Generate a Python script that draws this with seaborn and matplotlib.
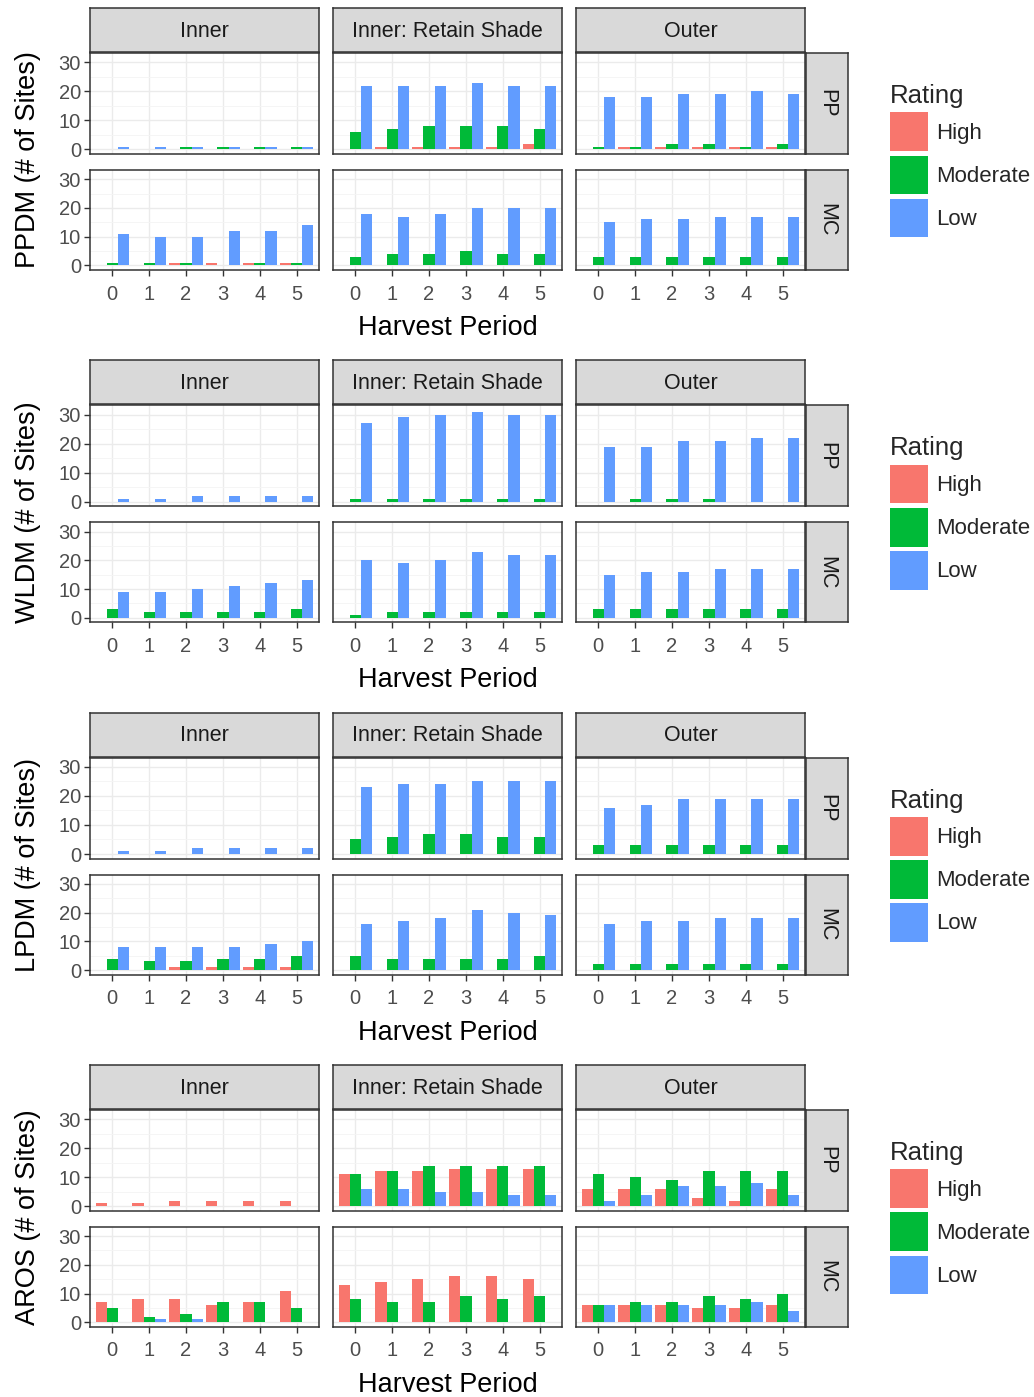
import matplotlib
matplotlib.use("Agg")
import matplotlib.pyplot as plt
from matplotlib.patches import Patch
from matplotlib.ticker import FixedLocator
import seaborn as sns
import pandas as pd

# ---------------- data ----------------
periods = ["0", "1", "2", "3", "4", "5"]
ratings = ["High", "Moderate", "Low"]
locations = ["Inner", "Inner: Retain Shade", "Outer"]
forests = ["PP", "MC"]
metrics = ["PPDM", "WLDM", "LPDM", "AROS"]
# panel order inside each list: PP-Inner, PP-RetainShade, PP-Outer, MC-Inner, MC-RetainShade, MC-Outer

PPDM_HIGH = [[0, 0, 0, 0, 0, 0], [0, 1, 1, 1, 1, 2], [0, 1, 1, 1, 1, 1],
             [0, 0, 1, 1, 1, 1], [0, 0, 0, 0, 0, 0], [0, 0, 0, 0, 0, 0]]
PPDM_MOD = [[0, 0, 1, 1, 1, 1], [6, 7, 8, 8, 8, 7], [1, 1, 2, 2, 1, 2],
            [1, 1, 1, 0, 1, 1], [3, 4, 4, 5, 4, 4], [3, 3, 3, 3, 3, 3]]
PPDM_LOW = [[1, 1, 1, 1, 1, 1], [22, 22, 22, 23, 22, 22], [18, 18, 19, 19, 20, 19],
            [11, 10, 10, 12, 12, 14], [18, 17, 18, 20, 20, 20], [15, 16, 16, 17, 17, 17]]

WLDM_HIGH = [[0, 0, 0, 0, 0, 0], [0, 0, 0, 0, 0, 0], [0, 0, 0, 0, 0, 0],
             [0, 0, 0, 0, 0, 0], [0, 0, 0, 0, 0, 0], [0, 0, 0, 0, 0, 0]]
WLDM_MOD = [[0, 0, 0, 0, 0, 0], [1, 1, 1, 1, 1, 1], [0, 1, 1, 1, 0, 0],
            [3, 2, 2, 2, 2, 3], [1, 2, 2, 2, 2, 2], [3, 3, 3, 3, 3, 3]]
WLDM_LOW = [[1, 1, 2, 2, 2, 2], [27, 29, 30, 31, 30, 30], [19, 19, 21, 21, 22, 22],
            [9, 9, 10, 11, 12, 13], [20, 19, 20, 23, 22, 22], [15, 16, 16, 17, 17, 17]]

LPDM_HIGH = [[0, 0, 0, 0, 0, 0], [0, 0, 0, 0, 0, 0], [0, 0, 0, 0, 0, 0],
             [0, 0, 1, 1, 1, 1], [0, 0, 0, 0, 0, 0], [0, 0, 0, 0, 0, 0]]
LPDM_MOD = [[0, 0, 0, 0, 0, 0], [5, 6, 7, 7, 6, 6], [3, 3, 3, 3, 3, 3],
            [4, 3, 3, 4, 4, 5], [5, 4, 4, 4, 4, 5], [2, 2, 2, 2, 2, 2]]
LPDM_LOW = [[1, 1, 2, 2, 2, 2], [23, 24, 24, 25, 25, 25], [16, 17, 19, 19, 19, 19],
            [8, 8, 8, 8, 9, 10], [16, 17, 18, 21, 20, 19], [16, 17, 17, 18, 18, 18]]

AROS_HIGH = [[1, 1, 2, 2, 2, 2], [11, 12, 12, 13, 13, 13], [6, 6, 6, 3, 2, 6],
             [7, 8, 8, 6, 7, 11], [13, 14, 15, 16, 16, 15], [6, 6, 6, 5, 5, 6]]
AROS_MOD = [[0, 0, 0, 0, 0, 0], [11, 12, 14, 14, 14, 14], [11, 10, 9, 12, 12, 12],
            [5, 2, 3, 7, 7, 5], [8, 7, 7, 9, 8, 9], [6, 7, 7, 9, 8, 10]]
AROS_LOW = [[0, 0, 0, 0, 0, 0], [6, 6, 5, 5, 4, 4], [2, 4, 7, 7, 8, 4],
            [0, 1, 1, 0, 0, 0], [0, 0, 0, 0, 0, 0], [6, 6, 6, 6, 7, 4]]

y_ticks = [0, 10, 20, 30]
colors = ["#F8766D", "#00BA38", "#619CFF"]

# ---------------- build long table ----------------
series = {
    "PPDM": (PPDM_HIGH, PPDM_MOD, PPDM_LOW),
    "WLDM": (WLDM_HIGH, WLDM_MOD, WLDM_LOW),
    "LPDM": (LPDM_HIGH, LPDM_MOD, LPDM_LOW),
    "AROS": (AROS_HIGH, AROS_MOD, AROS_LOW),
}
rows = []
for m in metrics:
    for r_i, rating in enumerate(ratings):
        panels = series[m][r_i]
        for p_i, vals in enumerate(panels):
            forest = forests[p_i // 3]
            loc = locations[p_i % 3]
            for per, v in zip(periods, vals):
                rows.append(dict(Metric=m, Forest=forest, Location=loc,
                                 Rating=rating, Period=per, Count=v))
df = pd.DataFrame(rows)

# ---------------- figure ----------------
sns.set_style("white")
plt.rcParams["font.family"] = ["Liberation Sans", "DejaVu Sans"]

W, H = 1034, 1397
fig = plt.figure(figsize=(W / 100, H / 100), dpi=100)


def rect(x0, y0, x1, y1):
    return [x0 / W, 1 - y1 / H, (x1 - x0) / W, (y1 - y0) / H]


BORDER = "#333333"
col_x = [(90, 319), (333, 562), (576, 805)]
ylim = (-1.58, 33.2)

for b, m in enumerate(metrics):
    T = 8 + 352.3 * b
    row_y = [(T + 45, T + 146), (T + 162, T + 262)]

    # column strips
    for c, loc in enumerate(locations):
        x0, x1 = col_x[c]
        sax = fig.add_axes(rect(x0, T, x1, T + 44))
        sax.set_facecolor("#D9D9D9")
        sax.set_xticks([]); sax.set_yticks([])
        for s in sax.spines.values():
            s.set_color(BORDER); s.set_linewidth(1.1)
        sax.text(0.5, 0.47, loc, ha="center", va="center", fontsize=15.5,
                 color="#1A1A1A", transform=sax.transAxes)

    for r, forest in enumerate(forests):
        y0, y1 = row_y[r]
        # row strip
        sax = fig.add_axes(rect(806, y0, 848, y1))
        sax.set_facecolor("#D9D9D9")
        sax.set_xticks([]); sax.set_yticks([])
        for s in sax.spines.values():
            s.set_color(BORDER); s.set_linewidth(1.1)
        sax.text(0.5, 0.5, forest, ha="center", va="center", fontsize=15.5,
                 color="#1A1A1A", rotation=270, transform=sax.transAxes)

        for c, loc in enumerate(locations):
            x0, x1 = col_x[c]
            ax = fig.add_axes(rect(x0, y0, x1, y1))
            sub = df[(df.Metric == m) & (df.Forest == forest) & (df.Location == loc)]
            sns.barplot(data=sub, x="Period", y="Count", hue="Rating",
                        order=periods, hue_order=ratings, palette=colors,
                        width=0.9, saturation=1, errorbar=None, legend=False,
                        linewidth=0, ax=ax)
            ax.set_xlim(-0.6, 5.6)
            ax.set_ylim(*ylim)
            ax.yaxis.set_major_locator(FixedLocator(y_ticks))
            ax.yaxis.set_minor_locator(FixedLocator([5, 15, 25]))
            ax.set_axisbelow(True)
            ax.grid(which="major", axis="both", color="#EBEBEB", lw=1.0)
            ax.grid(which="minor", axis="y", color="#F4F4F4", lw=0.6)
            ax.set_xlabel(""); ax.set_ylabel("")
            for s in ax.spines.values():
                s.set_visible(True)
                s.set_color(BORDER); s.set_linewidth(1.1)
            ax.tick_params(axis="both", which="both", colors=BORDER,
                           labelcolor="#4D4D4D", labelsize=14.5, length=4, width=1)
            ax.tick_params(axis="y", which="minor", length=0)
            ax.tick_params(axis="x", pad=6.5)
            ax.tick_params(axis="y", pad=2.5)
            if c != 0:
                ax.tick_params(axis="y", left=False, labelleft=False)
            else:
                ax.tick_params(axis="y", left=True, labelleft=True)
            if r == 0:
                ax.tick_params(axis="x", bottom=False, labelbottom=False)
            else:
                ax.tick_params(axis="x", bottom=True, labelbottom=True)

    # axis titles
    fig.text(28 / W, 1 - (T + 152) / H, f"{m} (# of Sites)", rotation=90,
             ha="center", va="center", fontsize=19.5, color="black")
    fig.text(447.5 / W, 1 - (T + 320) / H, "Harvest Period",
             ha="center", va="center", fontsize=19.5, color="black")

    # legend
    handles = [Patch(facecolor=col, edgecolor="none") for col in colors]
    fig.legend(handles, ratings, title="Rating", loc="upper left",
               bbox_to_anchor=(890 / W, 1 - (T + 76) / H),
               frameon=False, fontsize=16, title_fontsize=18.5,
               handlelength=1.72, handleheight=2.3, labelspacing=0.2,
               handletextpad=0.35, borderpad=0, borderaxespad=0,
               alignment="left")

fig.savefig("out.png", dpi=100)
